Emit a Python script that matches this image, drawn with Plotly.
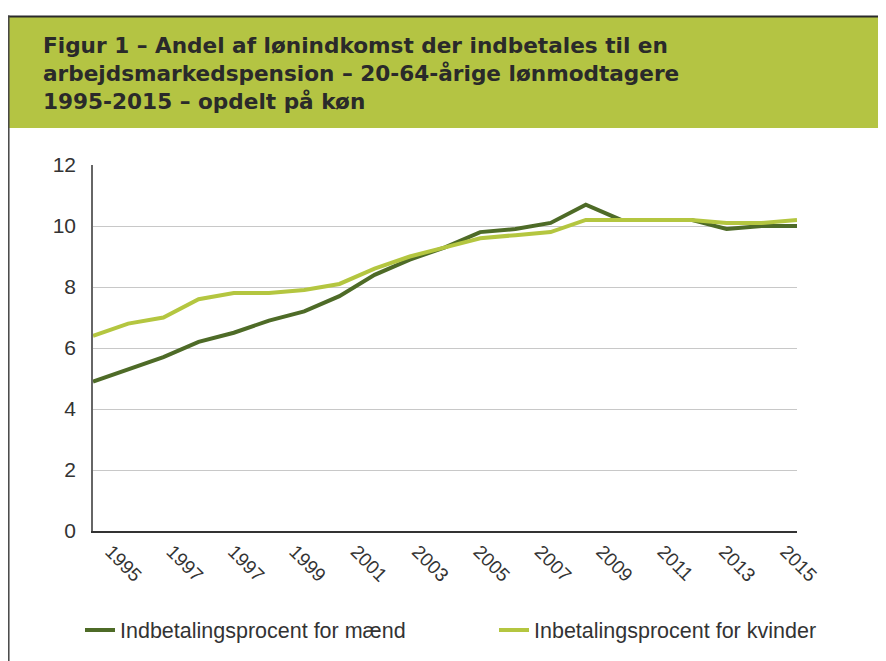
import numpy as np
import plotly.graph_objects as go

years = list(range(1995, 2016))
maend = [4.9, 5.3, 5.7, 6.2, 6.5, 6.9, 7.2, 7.7, 8.4, 8.9, 9.3, 9.8, 9.9, 10.1, 10.7, 10.2, 10.2, 10.2, 9.9, 10.0, 10.0]
kvinder = [6.4, 6.8, 7.0, 7.6, 7.8, 7.8, 7.9, 8.1, 8.6, 9.0, 9.3, 9.6, 9.7, 9.8, 10.2, 10.2, 10.2, 10.2, 10.1, 10.1, 10.2]
tick_labels = ["1995", "1997", "1997", "1999", "2001", "2003", "2005", "2007", "2009", "2011", "2013", "2015"]
title_lines = ["Figur 1 – Andel af lønindkomst der indbetales til en",
               "arbejdsmarkedspension – 20-64-årige lønmodtagere",
               "1995-2015 – opdelt på køn"]
names = ["Indbetalingsprocent for mænd", "Inbetalingsprocent for kvinder"]

DARK = "#4e6b27"
LIGHT = "#b4c640"
BAND = "#b4c443"

W, H = 886, 661
OFF = 8  # page body margin
# plot area in screen pixels
SL, SR, ST, SB = 93, 797, 165, 531
L, R, T, B = SL - OFF, SR - OFF, ST - OFF, SB - OFF


def px(x):
    return (x - SL) / (SR - SL)


def py(y):
    return (SB - y) / (SB - ST)


fig = go.Figure()
fig.add_trace(go.Scatter(x=years, y=maend, mode="lines", name=names[0],
                         line=dict(color=DARK, width=4), legend="legend"))
fig.add_trace(go.Scatter(x=years, y=kvinder, mode="lines", name=names[1],
                         line=dict(color=LIGHT, width=4), legend="legend2"))

shapes = [
    dict(type="rect", xref="paper", yref="paper", x0=px(8), x1=px(900), y0=py(128), y1=py(17),
         fillcolor=BAND, line=dict(width=0), layer="below"),
    dict(type="line", xref="paper", yref="paper", x0=px(8), x1=px(900), y0=py(16.5), y1=py(16.5),
         line=dict(color="#2a2a2a", width=2)),
    dict(type="line", xref="paper", yref="paper", x0=px(8.8), x1=px(8.8), y0=py(15.5), y1=py(680),
         line=dict(color="#444", width=1.5)),
]

annotations = []
for i, t in enumerate(title_lines):
    annotations.append(dict(text=t, xref="paper", yref="paper", x=px(41), y=py(46 + 27.5 * i),
                            xanchor="left", yanchor="middle", showarrow=False,
                            font=dict(family="DejaVu Sans", size=21.6, color="#2a2a2a",
                                      weight="bold")))

leg_font = dict(family="Liberation Sans, Arial", size=21.5, color="#333")
fig.update_layout(
    width=W, height=H,
    margin=dict(l=L, r=W - R, t=T, b=H - B, autoexpand=False),
    paper_bgcolor="white", plot_bgcolor="white",
    shapes=shapes, annotations=annotations,
    showlegend=True,
    legend=dict(orientation="h", x=px(80), y=py(630), xanchor="left", yanchor="middle",
                font=leg_font, bgcolor="rgba(0,0,0,0)"),
    legend2=dict(orientation="h", x=px(494), y=py(630), xanchor="left", yanchor="middle",
                 font=leg_font, bgcolor="rgba(0,0,0,0)"),
    font=dict(family="Liberation Sans, Arial", color="#333"),
)
fig.update_xaxes(range=[1995, 2015], tickmode="array",
                 tickvals=list(np.linspace(1995.5, 2014.68, len(tick_labels))),
                 ticktext=tick_labels, tickangle=45, ticks="", showgrid=False,
                 showline=True, linecolor="#333", linewidth=2,
                 tickfont=dict(size=19, color="#333"), zeroline=False)
fig.update_yaxes(range=[0, 12], dtick=2, showgrid=True, gridcolor="#c8c8c8", gridwidth=1,
                 showline=True, linecolor="#666", linewidth=1.5, ticks="",
                 ticklabelstandoff=11, tickfont=dict(size=21, color="#333"), zeroline=False)

fig.write_html("out.html")
